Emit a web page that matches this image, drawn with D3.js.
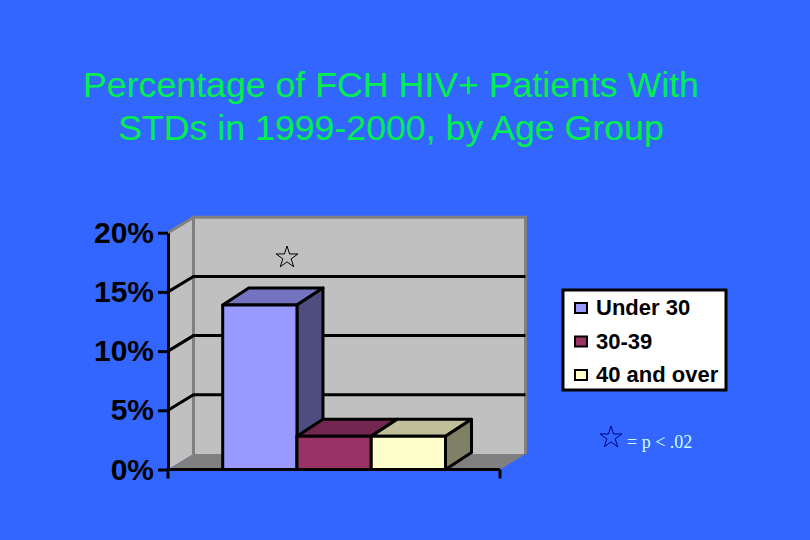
<!DOCTYPE html>
<html>
<head>
<meta charset="utf-8">
<style>
    html, body { margin: 0; padding: 0; background: #3366FF; }
    svg { display: block; }
    text { font-family: "Liberation Sans", Arial, sans-serif; }
    .title { fill: #00F050; font-size: 35.7px; text-anchor: middle; }
    .axis text { font-size: 30px; font-weight: bold; fill: #000; }
    .legend-label { font-size: 22px; font-weight: bold; fill: #000; }
    .note { font-family: "Liberation Serif", serif; font-size: 18px; fill: #CCFFFF; }
</style>
</head>
<body>
<svg id="chart" width="810" height="540"></svg>
<script src="https://d3js.org/d3.v7.min.js"></script>
<script>
    // values
    var titleLines = ["Percentage of FCH HIV+ Patients With", "STDs in 1999-2000, by Age Group"];
    var groups = ["Under 30", "30-39", "40 and over"];
    var percents = [13.9, 2.8, 2.8];
    var yTicks = [0, 5, 10, 15, 20];
    var gridTicks = [5, 10, 15];
    var frontColors = ["#9999FF", "#993366", "#FFFFCC"];
    var topColors = ["#7373BF", "#732650", "#BFBF99"];
    var sideColors = ["#4D4D80", "#732650", "#808066"];

    var svg = d3.select("#chart");

    // 3d offset of the chart box
    var depthX = 25.5, depthY = -15.5;
    var barDepthX = 26, barDepthY = -17;

    var y = d3.scaleLinear().domain([0, 20]).range([469.5, 232.7]);
    var x = d3.scaleBand().domain(groups).range([222.7, 445.5]);
    var left = 168, right = 500;

    function poly(pts) { return d3.line()(pts) + "Z"; }

    svg.selectAll(".title")
        .data(titleLines)
        .enter().append("text")
        .attr("class", "title")
        .attr("x", 391)
        .attr("y", (d, i) => 97 + i * 43)
        .text(d => d);

    // side wall, back wall, floor
    svg.append("path")
        .attr("d", poly([[left, y(20)], [left + depthX, y(20) + depthY], [left + depthX, y(0) + depthY], [left, y(0)]]))
        .attr("fill", "#C0C0C0");
    svg.append("rect")
        .attr("x", left + depthX)
        .attr("y", y(20) + depthY)
        .attr("width", right - left)
        .attr("height", y(0) - y(20))
        .attr("fill", "#C0C0C0");
    svg.append("path")
        .attr("d", poly([[left, y(0)], [right, y(0)], [right + depthX, y(0) + depthY], [left + depthX, y(0) + depthY]]))
        .attr("fill", "#808080");
    svg.append("path")
        .attr("d", d3.line()([[left, y(20)], [left + depthX, y(20) + depthY], [right + depthX, y(20) + depthY], [right + depthX, y(0) + depthY]]))
        .attr("fill", "none").attr("stroke", "#808080").attr("stroke-width", 3);
    svg.append("line")
        .attr("x1", left + depthX).attr("x2", left + depthX)
        .attr("y1", y(20) + depthY).attr("y2", y(0) + depthY)
        .attr("stroke", "#808080").attr("stroke-width", 3);

    // gridlines run along the side wall and back wall
    svg.selectAll(".grid")
        .data(gridTicks)
        .enter().append("path")
        .attr("class", "grid")
        .attr("fill", "none")
        .attr("stroke", "#000")
        .attr("stroke-width", 3)
        .attr("d", d => d3.line()([[left, y(d)], [left + depthX, y(d) + depthY], [right + depthX, y(d) + depthY]]));

    // bars, left to right so the later ones overlap
    var bars = svg.selectAll(".bar")
        .data(groups)
        .enter().append("g")
        .attr("class", "bar")
        .attr("stroke", "#000")
        .attr("stroke-width", 3)
        .attr("stroke-linejoin", "round");

    bars.append("path")
        .attr("fill", (d, i) => topColors[i])
        .attr("d", (d, i) => {
            var x0 = x(d), x1 = x0 + x.bandwidth(), t = y(percents[i]);
            return poly([[x0, t], [x1, t], [x1 + barDepthX, t + barDepthY], [x0 + barDepthX, t + barDepthY]]);
        });
    bars.append("path")
        .attr("fill", (d, i) => sideColors[i])
        .attr("d", (d, i) => {
            var x1 = x(d) + x.bandwidth(), t = y(percents[i]);
            return poly([[x1, t], [x1 + barDepthX, t + barDepthY], [x1 + barDepthX, y(0) + barDepthY], [x1, y(0)]]);
        });
    bars.append("rect")
        .attr("fill", (d, i) => frontColors[i])
        .attr("x", d => x(d))
        .attr("y", (d, i) => y(percents[i]))
        .attr("width", x.bandwidth())
        .attr("height", (d, i) => y(0) - y(percents[i]));

    // axes
    var yAxis = svg.append("g")
        .attr("class", "axis")
        .attr("transform", "translate(" + left + ",0)")
        .call(d3.axisLeft(y).tickValues(yTicks).tickFormat(d => d + "%").tickSize(10).tickSizeOuter(0).tickPadding(4));
    yAxis.selectAll("line").attr("stroke", "#000").attr("stroke-width", 3);
    yAxis.select(".domain").attr("stroke", "#000").attr("stroke-width", 3);

    var xAxis = svg.append("g")
        .attr("transform", "translate(0," + y(0) + ")");
    xAxis.append("line").attr("x1", left).attr("x2", right).attr("stroke", "#000").attr("stroke-width", 3);
    xAxis.selectAll(".tick")
        .data([left, right])
        .enter().append("line")
        .attr("class", "tick")
        .attr("x1", d => d).attr("x2", d => d)
        .attr("y1", 0).attr("y2", 9)
        .attr("stroke", "#000").attr("stroke-width", 3);

    // legend
    var legend = svg.append("g").attr("transform", "translate(563,290)");
    legend.append("rect")
        .attr("width", 163).attr("height", 100)
        .attr("fill", "#fff").attr("stroke", "#000").attr("stroke-width", 3);
    var legendY = d3.scalePoint().domain(groups).range([18, 85]);
    var items = legend.selectAll(".item")
        .data(groups)
        .enter().append("g")
        .attr("class", "item")
        .attr("transform", d => "translate(0," + legendY(d) + ")");
    items.append("rect")
        .attr("x", 12).attr("y", -5)
        .attr("width", 12).attr("height", 10)
        .attr("fill", (d, i) => frontColors[i])
        .attr("stroke", "#000").attr("stroke-width", 2);
    items.append("text")
        .attr("class", "legend-label")
        .attr("x", 33)
        .attr("y", 7)
        .text(d => d);

    // significance stars
    var star = d3.symbol().type(d3.symbolStar).size(148);
    svg.append("path")
        .attr("d", star())
        .attr("transform", "translate(287,257.5)")
        .attr("fill", "none").attr("stroke", "#000").attr("stroke-width", 1);
    svg.append("path")
        .attr("d", star())
        .attr("transform", "translate(611,437.5)")
        .attr("fill", "none").attr("stroke", "#000080").attr("stroke-width", 1);
    svg.append("text")
        .attr("class", "note")
        .attr("x", 627)
        .attr("y", 447.5)
        .text("= p < .02");
</script>
</body>
</html>
